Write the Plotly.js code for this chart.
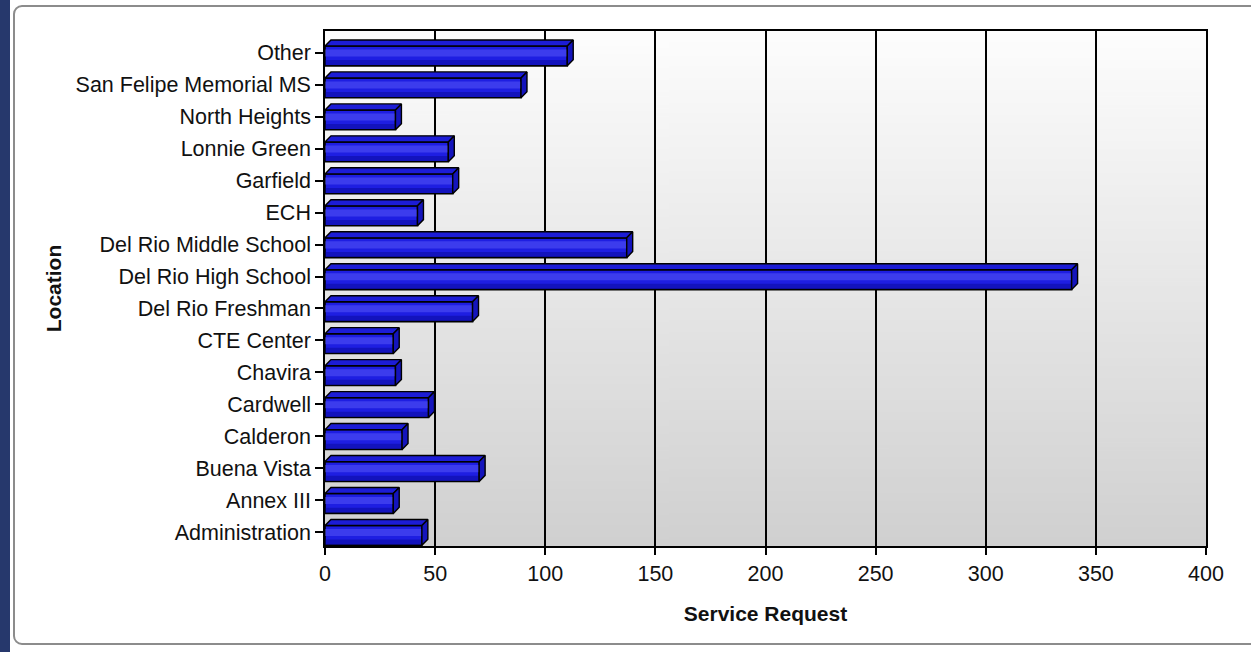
<!DOCTYPE html>
<html>
<head>
<meta charset="utf-8">
<script src="https://cdn.plot.ly/plotly-3.0.1.min.js"></script>
<style>
  html, body { margin:0; padding:0; background:#ffffff; overflow:hidden; }
  #strip { position:absolute; left:0; top:0; width:10px; height:652px; background:#26386c; }
  #frame { position:absolute; left:13px; top:5px; width:1250px; height:640px; border:2px solid #8c8c8c; border-radius:9px; background:#ffffff; box-sizing:border-box; }
  #chart { position:absolute; left:0; top:0; width:1251px; height:652px; }
</style>
</head>
<body>
<div id="strip"></div>
<div id="frame"></div>
<div id="chart"></div>
<script>
// Data (bottom to top as drawn)
const categories = ['Administration','Annex III','Buena Vista','Calderon','Cardwell','Chavira','CTE Center','Del Rio Freshman','Del Rio High School','Del Rio Middle School','ECH','Garfield','Lonnie Green','North Heights','San Felipe Memorial MS','Other'];
const requests = [44, 31, 70, 35, 47, 32, 31, 67, 339, 137, 42, 58, 56, 32, 89, 110];
const xTicks = [0, 50, 100, 150, 200, 250, 300, 350, 400];

const positions = categories.map((_, i) => i);

// 3D appearance parameters (in data units)
const frontLow = -0.41, frontHigh = 0.21, depthX = 2.7, depthY = 0.19;

// Build top and side faces from the data values
const topX = [], topY = [], sideX = [], sideY = [];
requests.forEach((v, i) => {
  const b = i + frontLow, t = i + frontHigh;
  topX.push(0, v, v + depthX, depthX, 0, null);
  topY.push(t, t, t + depthY, t + depthY, t, null);
  sideX.push(v, v, v + depthX, v + depthX, v, null);
  sideY.push(b, t, t + depthY, b + depthY, b, null);
});

// Background gradient for plot area
const cv = document.createElement('canvas');
cv.width = 4; cv.height = 256;
const ctx = cv.getContext('2d');
const g = ctx.createLinearGradient(0, 0, 0, 256);
g.addColorStop(0, '#fdfdfd');
g.addColorStop(1, '#d0d0d0');
ctx.fillStyle = g; ctx.fillRect(0, 0, 4, 256);
const bgUrl = cv.toDataURL('image/png');

const fontFam = '"Liberation Sans", Arial, sans-serif';

const traces = [
  {
    type: 'bar', orientation: 'h',
    x: requests, y: positions,
    width: 0.62, offset: frontLow,
    marker: { color: '#1e1ee2', line: { color: '#000000', width: 1.6 } },
    hovertemplate: '%{text}: %{x}<extra></extra>',
    text: categories, textposition: 'none',
    showlegend: false
  },
  {
    type: 'bar', orientation: 'h',
    x: requests, y: positions,
    width: 0.22, offset: -0.12,
    marker: { color: 'rgba(110,110,255,0.38)', line: { width: 0 } },
    hoverinfo: 'skip', showlegend: false
  },
  {
    type: 'bar', orientation: 'h',
    x: requests, y: positions,
    width: 0.16, offset: -0.39,
    marker: { color: 'rgba(0,0,120,0.35)', line: { width: 0 } },
    hoverinfo: 'skip', showlegend: false
  },
  {
    type: 'scatter', mode: 'lines', x: topX, y: topY,
    fill: 'toself', fillcolor: '#1c1cd6',
    line: { color: '#000000', width: 1.4 },
    hoverinfo: 'skip', showlegend: false
  },
  {
    type: 'scatter', mode: 'lines', x: sideX, y: sideY,
    fill: 'toself', fillcolor: '#1414bc',
    line: { color: '#000000', width: 1.4 },
    hoverinfo: 'skip', showlegend: false
  }
];

const layout = {
  width: 1251, height: 652,
  margin: { l: 325, r: 45, t: 31, b: 106 },
  paper_bgcolor: 'rgba(0,0,0,0)',
  plot_bgcolor: 'rgba(0,0,0,0)',
  font: { family: fontFam, size: 21.5, color: '#111111' },
  barmode: 'overlay',
  showlegend: false,
  xaxis: {
    range: [0, 400],
    tickvals: xTicks, ticktext: xTicks.map(String),
    ticks: 'outside', ticklen: 7, tickwidth: 1.5, tickcolor: '#000000',
    showgrid: true, gridcolor: '#000000', gridwidth: 1.5,
    showline: true, mirror: true, linecolor: '#000000', linewidth: 1.5,
    zeroline: false,
    tickfont: { family: fontFam, size: 21.5, color: '#111111' },
    title: { text: 'Service Request', font: { family: fontFam, size: 21, color: '#111111', weight: 'bold' }, standoff: 22 },
    fixedrange: true
  },
  yaxis: {
    range: [-0.43, 15.68],
    tickvals: positions, ticktext: categories,
    ticks: 'outside', ticklen: 8, tickwidth: 1.5, tickcolor: '#000000',
    showgrid: false,
    showline: true, mirror: true, linecolor: '#000000', linewidth: 1.5,
    zeroline: false,
    tickfont: { family: fontFam, size: 21.5, color: '#111111' },
    title: { text: 'Location', font: { family: fontFam, size: 21, color: '#111111', weight: 'bold' }, standoff: 8 },
    fixedrange: true
  },
  images: [{
    source: bgUrl, xref: 'paper', yref: 'paper',
    x: 0, y: 1, sizex: 1, sizey: 1,
    xanchor: 'left', yanchor: 'top', sizing: 'stretch', layer: 'below'
  }]
};

Plotly.newPlot('chart', traces, layout, { displayModeBar: false });
</script>
</body>
</html>
